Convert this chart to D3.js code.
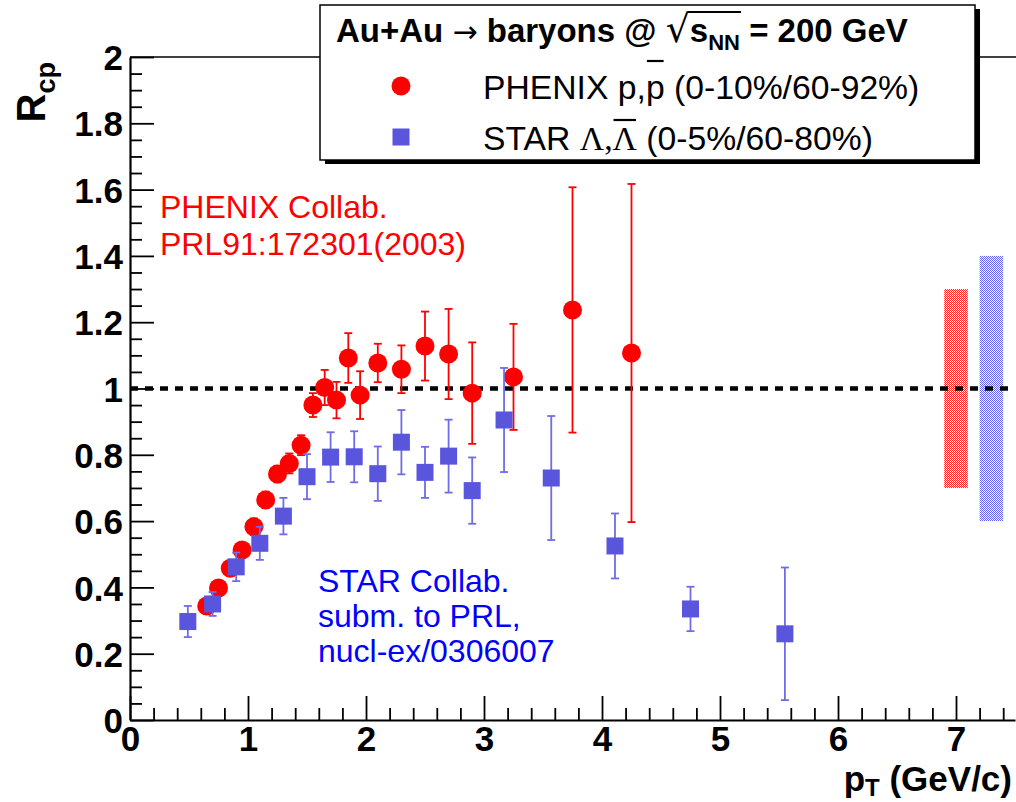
<!DOCTYPE html>
<html><head><meta charset="utf-8">
<script src="https://cdn.jsdelivr.net/npm/d3@7"></script>
<style>body{margin:0;background:#fff} svg{display:block} text{white-space:pre}</style>
</head><body>
<svg id="c" width="1016" height="802"></svg>
<script>
// ---- data ----
const phenixPt  = [0.65, 0.75, 0.85, 0.95, 1.05, 1.15, 1.25, 1.35, 1.45, 1.55, 1.65, 1.75, 1.85, 1.95, 2.1, 2.3, 2.5, 2.7, 2.9, 3.25, 3.75, 4.25];
const phenixRcp = [0.344, 0.398, 0.458, 0.513, 0.583, 0.664, 0.742, 0.774, 0.829, 0.950, 1.003, 0.965, 1.092, 0.980, 1.077, 1.058, 1.128, 1.104, 0.986, 1.035, 1.237, 1.107];
const phenixErr = [0.015, 0.015, 0.02, 0.02, 0.025, 0.025, 0.025, 0.03, 0.03, 0.036, 0.053, 0.055, 0.075, 0.072, 0.058, 0.072, 0.104, 0.136, 0.153, 0.16, 0.37, 0.51];
const starPt  = [0.49, 0.70, 0.90, 1.10, 1.30, 1.50, 1.70, 1.90, 2.10, 2.30, 2.50, 2.70, 2.90, 3.17, 3.57, 4.11, 4.75, 5.55];
const starRcp = [0.297, 0.350, 0.462, 0.533, 0.615, 0.734, 0.793, 0.794, 0.743, 0.838, 0.747, 0.796, 0.692, 0.905, 0.730, 0.525, 0.335, 0.260];
const starErr = [0.047, 0.036, 0.043, 0.050, 0.055, 0.068, 0.075, 0.077, 0.082, 0.097, 0.077, 0.110, 0.100, 0.157, 0.187, 0.098, 0.067, 0.200];
const sysNames = ["PHENIX", "STAR"];
const sysPtLo = [6.9, 7.2];
const sysPtHi = [7.1, 7.4];
const sysLow  = [0.7, 0.6];
const sysHigh = [1.3, 1.4];
const xTicks = [0, 1, 2, 3, 4, 5, 6, 7];
const yTicks = [0, 0.2, 0.4, 0.6, 0.8, 1, 1.2, 1.4, 1.6, 1.8, 2];
const refLine = 1;

// ---- setup ----
const FONT = "'Liberation Sans', Arial, Helvetica, sans-serif";
const SERIF = "'Liberation Serif', 'Times New Roman', serif";
const SYM = "'DejaVu Sans', sans-serif";
const RED = "#ff0000", BLUE = "#5a55dd", BLUE_ERR = "#6f6ce6", TXT_BLUE = "#0000ff";
const svg = d3.select("#c").style("font-family", FONT);
const x = d3.scaleLinear().domain([0, 7.5]).range([130, 1015]);
const y = d3.scaleLinear().domain([0, 2]).range([720, 57]);

const defs = svg.append("defs");
function pat(id, col) {
  const p = defs.append("pattern").attr("id", id).attr("patternUnits", "userSpaceOnUse")
    .attr("width", 2).attr("height", 2);
  p.append("rect").attr("width", 2).attr("height", 2).attr("fill", "#fff");
  p.append("rect").attr("x", 0).attr("y", 0).attr("width", 1).attr("height", 1).attr("fill", col);
  p.append("rect").attr("x", 1).attr("y", 1).attr("width", 1).attr("height", 1).attr("fill", col);
}
pat("hatR", "#ff2020");
pat("hatB", "#6060e8");

// top frame line
svg.append("line").attr("x1", x(0)).attr("x2", 1016).attr("y1", y(2)).attr("y2", y(2))
  .attr("stroke", "#000").attr("stroke-width", 1.5);

// minor ticks
const xMinor = d3.range(0, 7.5001, 0.2).filter(v => Math.abs(v - Math.round(v)) > 1e-6);
const yMinor = d3.range(0, 2.0001, 0.05).filter(v => Math.abs(v * 5 - Math.round(v * 5)) > 1e-6);
svg.append("g").attr("transform", `translate(0,${y(0)})`)
  .call(d3.axisBottom(x).tickValues(xMinor).tickSizeInner(-12).tickSizeOuter(0).tickFormat(""))
  .call(g => g.select(".domain").remove())
  .call(g => g.selectAll("line").attr("stroke-width", 1.8));
svg.append("g").attr("transform", `translate(${x(0)},0)`)
  .call(d3.axisLeft(y).tickValues(yMinor).tickSizeInner(-12).tickSizeOuter(0).tickFormat(""))
  .call(g => g.select(".domain").remove())
  .call(g => g.selectAll("line").attr("stroke-width", 1.8));

// major axes
const gx = svg.append("g").attr("transform", `translate(0,${y(0)})`)
  .call(d3.axisBottom(x).tickValues(xTicks).tickSizeInner(-24).tickSizeOuter(0).tickPadding(6.5).tickFormat(d3.format("d")));
const gy = svg.append("g").attr("transform", `translate(${x(0)},0)`)
  .call(d3.axisLeft(y).tickValues(yTicks).tickSizeInner(-24).tickSizeOuter(0).tickPadding(7).tickFormat(d3.format("~g")));
[gx, gy].forEach(g => {
  g.select(".domain").attr("stroke-width", 2.2);
  g.selectAll(".tick line").attr("stroke-width", 1.8);
  g.selectAll(".tick text").attr("font-family", FONT).attr("font-size", 35).attr("font-weight", "bold").attr("fill", "#000");
});
gy.selectAll(".tick text").attr("dy", "0.36em");

// axis titles
svg.append("text").attr("x", 1012).attr("y", 791).attr("text-anchor", "end")
  .attr("font-size", 35).attr("font-weight", "bold")
  .call(t => { t.append("tspan").text("p");
               t.append("tspan").attr("font-size", 24).attr("dy", 5).text("T");
               t.append("tspan").attr("dy", -5).text(" (GeV/c)"); });
svg.append("text").attr("transform", "translate(45,62) rotate(-90)").attr("text-anchor", "end")
  .attr("font-size", 40).attr("font-weight", "bold")
  .call(t => { t.append("tspan").text("R");
               t.append("tspan").attr("font-size", 27).attr("dy", 10).text("cp"); });

// systematic boxes
svg.append("g").selectAll("rect").data(sysNames).join("rect")
  .attr("x", (d, i) => x(sysPtLo[i])).attr("width", (d, i) => x(sysPtHi[i]) - x(sysPtLo[i]))
  .attr("y", (d, i) => y(sysHigh[i])).attr("height", (d, i) => y(sysLow[i]) - y(sysHigh[i]))
  .attr("fill", (d, i) => i === 0 ? "url(#hatR)" : "url(#hatB)");

// dashed reference line
svg.append("line").attr("x1", x(0)).attr("x2", x(7.5)).attr("y1", y(refLine)).attr("y2", y(refLine))
  .attr("stroke", "#000").attr("stroke-width", 4.5).attr("stroke-dasharray", "8,7");

// error bars helper
function errBars(pt, val, err, col, sw) {
  const g = svg.append("g").attr("stroke", col).attr("stroke-width", sw).attr("fill", "none");
  const idx = d3.range(pt.length);
  g.selectAll("line.v").data(idx).join("line").attr("class", "v")
    .attr("x1", i => x(pt[i])).attr("x2", i => x(pt[i]))
    .attr("y1", i => y(val[i] + err[i])).attr("y2", i => y(val[i] - err[i]));
  g.selectAll("line.t").data(idx).join("line").attr("class", "t")
    .attr("x1", i => x(pt[i]) - 4).attr("x2", i => x(pt[i]) + 4)
    .attr("y1", i => y(val[i] + err[i])).attr("y2", i => y(val[i] + err[i]));
  g.selectAll("line.b").data(idx).join("line").attr("class", "b")
    .attr("x1", i => x(pt[i]) - 4).attr("x2", i => x(pt[i]) + 4)
    .attr("y1", i => y(val[i] - err[i])).attr("y2", i => y(val[i] - err[i]));
}

// PHENIX
errBars(phenixPt, phenixRcp, phenixErr, RED, 1.8);
svg.append("g").selectAll("circle").data(d3.range(phenixPt.length)).join("circle")
  .attr("cx", i => x(phenixPt[i])).attr("cy", i => y(phenixRcp[i])).attr("r", 9.5).attr("fill", RED);

// STAR
errBars(starPt, starRcp, starErr, BLUE_ERR, 1.8);
svg.append("g").selectAll("rect").data(d3.range(starPt.length)).join("rect")
  .attr("x", i => x(starPt[i]) - 8.5).attr("y", i => y(starRcp[i]) - 8.5)
  .attr("width", 17).attr("height", 17).attr("fill", BLUE);

// annotations
const annP = svg.append("text").attr("fill", RED).attr("font-size", 32);
annP.append("tspan").attr("x", 160).attr("y", 218).text("PHENIX Collab.");
annP.append("tspan").attr("x", 160).attr("y", 255).text("PRL91:172301(2003)");
const annS = svg.append("text").attr("fill", TXT_BLUE).attr("font-size", 32);
annS.append("tspan").attr("x", 318).attr("y", 592).text("STAR Collab.");
annS.append("tspan").attr("x", 318).attr("y", 627).text("subm. to PRL,");
annS.append("tspan").attr("x", 318).attr("y", 662).text("nucl-ex/0306007");

// legend
const lg = svg.append("g");
lg.append("rect").attr("x", 325).attr("y", 9).attr("width", 655).attr("height", 155).attr("fill", "#000");
lg.append("rect").attr("x", 320).attr("y", 5).attr("width", 655).attr("height", 155)
  .attr("fill", "#fff").attr("stroke", "#000").attr("stroke-width", 1.5);

// place a run of text pieces one after another; returns [x, width] of each piece
function seq(g, x0, yb, size, weight, parts) {
  let cx = x0;
  return parts.map(p => {
    const t = g.append("text").attr("x", cx).attr("y", yb + (p.dy || 0))
      .attr("xml:space", "preserve")
      .attr("font-size", p.size || size).attr("font-weight", p.weight || weight)
      .attr("font-family", p.family || FONT).text(p.t);
    const w = t.node().getComputedTextLength();
    const r = [cx, w];
    cx += w;
    return r;
  });
}

const tp = seq(lg, 336, 42, 33, "bold", [
  {t: "Au+Au "},
  {t: "\u2192", weight: "normal", family: SYM, size: 30},
  {t: " baryons @ "},
  {t: "\u221A", weight: "normal", family: SYM, size: 38},
  {t: "s"},
  {t: "NN", size: 22, dy: 8},
  {t: " = 200 GeV"}
]);
lg.append("line").attr("x1", tp[3][0] + tp[3][1] - 2).attr("x2", tp[5][0] + tp[5][1] + 1)
  .attr("y1", 12).attr("y2", 12).attr("stroke", "#000").attr("stroke-width", 2.2);

lg.append("circle").attr("cx", 401).attr("cy", 86).attr("r", 9.5).attr("fill", RED);
lg.append("rect").attr("x", 392.5).attr("y", 128.5).attr("width", 17).attr("height", 17).attr("fill", BLUE);

const p1 = seq(lg, 483, 99, 33.7, "normal", [
  {t: "PHENIX p,"}, {t: "p"}, {t: " (0-10%/60-92%)"}
]);
lg.append("line").attr("x1", p1[1][0] + 1).attr("x2", p1[1][0] + p1[1][1] - 1)
  .attr("y1", 61).attr("y2", 61).attr("stroke", "#000").attr("stroke-width", 2.2);

const p2 = seq(lg, 483, 150, 33.7, "normal", [
  {t: "STAR "}, {t: "\u039B,", family: SERIF}, {t: "\u039B", family: SERIF}, {t: " (0-5%/60-80%)"}
]);
lg.append("line").attr("x1", p2[2][0] + 1).attr("x2", p2[2][0] + p2[2][1] - 1)
  .attr("y1", 120).attr("y2", 120).attr("stroke", "#000").attr("stroke-width", 2.2);
</script>
</body></html>
